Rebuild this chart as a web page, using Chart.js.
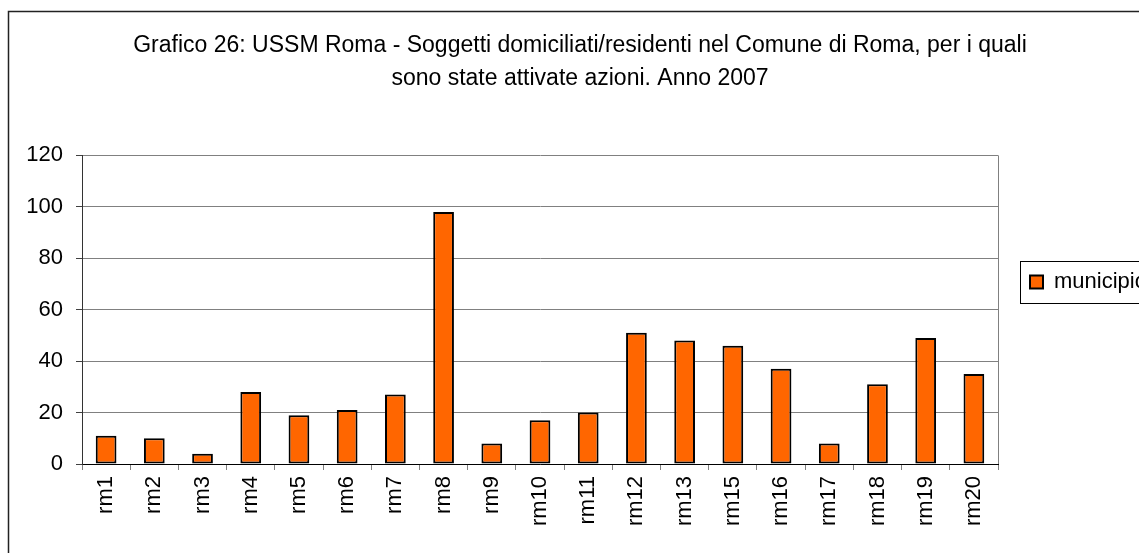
<!DOCTYPE html>
<html>
<head>
<meta charset="utf-8">
<script src="https://cdn.jsdelivr.net/npm/chart.js@4/dist/chart.umd.min.js"></script>
<style>
  html, body { margin: 0; padding: 0; background: #fff; overflow: hidden; }
  #wrap { width: 1139px; height: 553px; overflow: hidden; }
  canvas { display: block; }
</style>
</head>
<body>
<div id="wrap"><canvas id="myChart" width="1152" height="553"></canvas></div>
<script>
const titleLines = [
  "Grafico 26: USSM Roma - Soggetti domiciliati/residenti nel Comune di Roma, per i quali",
  "sono state attivate azioni. Anno 2007"
];
const categories = ["rm1", "rm2", "rm3", "rm4", "rm5", "rm6", "rm7", "rm8", "rm9", "rm10",
  "rm11", "rm12", "rm13", "rm15", "rm16", "rm17", "rm18", "rm19", "rm20"];
const municipio = [11, 10, 4, 28, 19, 21, 27, 98, 8, 17, 20, 51, 48, 46, 37, 8, 31, 49, 35];
const seriesName = "municipio";
const yMin = 0;
const yMax = 120;
const yStep = 20;

const sans = "'Liberation Sans Narrow', 'Arial Narrow', 'Liberation Sans', Arial, sans-serif";

// outer frame, right border of the plot and the box round the legend
const decorations = {
  id: "decorations",
  afterDraw(chart) {
    const { ctx, chartArea } = chart;
    ctx.save();
    ctx.strokeStyle = "#808080";
    ctx.lineWidth = 1;
    ctx.beginPath();
    ctx.moveTo(Math.round(chartArea.right) + 0.5, chartArea.top);
    ctx.lineTo(Math.round(chartArea.right) + 0.5, chartArea.bottom);
    ctx.stroke();

    const hit = chart.legend.legendHitBoxes[0];
    if (hit) {
      const cy = hit.top + hit.height / 2;
      ctx.strokeStyle = "#000";
      ctx.strokeRect(Math.round(hit.left - 10) + 0.5, Math.round(cy - 21) + 0.5, 400, 42);
    }

    ctx.strokeStyle = "#222";
    ctx.lineWidth = 1.5;
    ctx.strokeRect(8.5, 11.5, 2000, 2000);
    ctx.restore();
  }
};

new Chart(document.getElementById("myChart"), {
  type: "bar",
  data: {
    labels: categories,
    datasets: [
      {
        label: seriesName,
        data: municipio,
        backgroundColor: "#ff6600",
        borderColor: "#000",
        borderWidth: 2,
        borderSkipped: false,
        categoryPercentage: 1,
        barPercentage: 0.43,
      },
    ],
  },
  options: {
    responsive: false,
    animation: false,
    layout: { padding: { left: 8, top: 11, right: 0, bottom: 0 } },
    plugins: {
      title: {
        display: true,
        text: titleLines,
        color: "#000",
        font: { family: sans, size: 23, weight: "normal", lineHeight: 1.4 },
        padding: { top: 19, bottom: 61 },
      },
      legend: {
        position: "right",
        align: "center",
        maxWidth: 154,
        labels: {
          color: "#000",
          boxWidth: 13,
          boxHeight: 13,
          padding: 32,
          font: { family: sans, size: 22 },
        },
      },
      tooltip: { enabled: false },
    },
    scales: {
      x: {
        afterFit(scale) { scale.height = 89; },
        grid: {
          drawOnChartArea: false,
          offset: true,
          color: "#808080",
          tickLength: 6,
        },
        border: { color: "#000", width: 1 },
        ticks: {
          color: "#000",
          minRotation: 90,
          maxRotation: 90,
          autoSkip: false,
          padding: 6,
          font: { family: sans, size: 22 },
        },
      },
      y: {
        min: yMin,
        max: yMax,
        afterFit(scale) { scale.width = 74; },
        grid: { color: "#808080", tickColor: "#404040", tickLength: 6 },
        border: { color: "#333", width: 1 },
        ticks: {
          stepSize: yStep,
          color: "#000",
          padding: 13,
          font: { family: sans, size: 22 },
        },
      },
    },
  },
  plugins: [decorations],
});
</script>
</body>
</html>
